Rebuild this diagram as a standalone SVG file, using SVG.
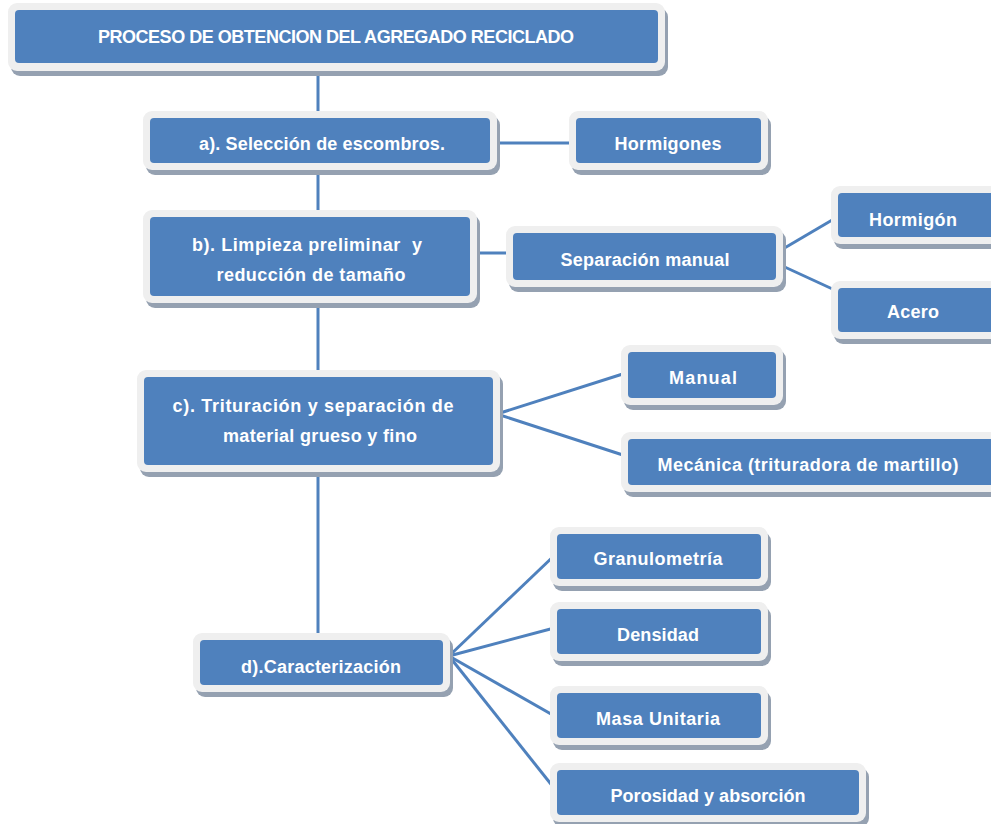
<svg xmlns="http://www.w3.org/2000/svg" width="991" height="824" viewBox="0 0 991 824">
<style>
.sh{fill:#95a1b1}
.fr{fill:#efefef}
.bl{fill:#4f81bd}
.t{font-family:"Liberation Sans",Arial,sans-serif;font-weight:bold;font-size:18px;fill:#ffffff;text-anchor:middle}
.c{stroke:#4f81bd;stroke-width:3;fill:none}
</style>
<rect width="991" height="824" fill="#ffffff"/>
<g id="connectors">
<line class="c" x1="318" y1="60" x2="318" y2="642"/>
<line class="c" x1="490" y1="143" x2="577" y2="143"/>
<line class="c" x1="470" y1="253" x2="514" y2="253"/>
<line class="c" x1="776" y1="253" x2="839" y2="216"/>
<line class="c" x1="776" y1="263" x2="839" y2="292"/>
<line class="c" x1="497" y1="414" x2="629" y2="372"/>
<line class="c" x1="497" y1="414" x2="629" y2="457"/>
<line class="c" x1="449" y1="656" x2="558" y2="552"/>
<line class="c" x1="449" y1="656" x2="558" y2="627"/>
<line class="c" x1="449" y1="656" x2="558" y2="718"/>
<line class="c" x1="449" y1="656" x2="558" y2="793"/>
</g>
<g id="n-top">
<rect class="sh" x="11" y="8" width="657" height="68" rx="9"/>
<rect class="fr" x="8" y="3" width="657" height="68" rx="9"/>
<rect class="bl" x="15" y="10" width="643" height="53" rx="4"/>
<text class="t" x="336" y="43" font-size="16.5" textLength="476">PROCESO DE OBTENCION DEL AGREGADO RECICLADO</text>
</g>
<g id="n-a">
<rect class="sh" x="146" y="116" width="354" height="59" rx="9"/>
<rect class="fr" x="143" y="111" width="354" height="59" rx="9"/>
<rect class="bl" x="150" y="118" width="340" height="45" rx="4"/>
<text class="t" x="322" y="150" textLength="246">a). Selección de escombros.</text>
</g>
<g id="n-hormigones">
<rect class="sh" x="572" y="116" width="199" height="59" rx="9"/>
<rect class="fr" x="569" y="111" width="199" height="59" rx="9"/>
<rect class="bl" x="576" y="118" width="185" height="45" rx="4"/>
<text class="t" x="668" y="150" textLength="107">Hormigones</text>
</g>
<g id="n-b">
<rect class="sh" x="146" y="215" width="334" height="93" rx="9"/>
<rect class="fr" x="143" y="210" width="334" height="93" rx="9"/>
<rect class="bl" x="150" y="217" width="320" height="79" rx="4"/>
<text class="t" x="307" y="251" textLength="230" xml:space="preserve">b). Limpieza preliminar  y</text>
<text class="t" x="311" y="281" textLength="189">reducción de tamaño</text>
</g>
<g id="n-separacion">
<rect class="sh" x="509" y="231" width="277" height="61" rx="9"/>
<rect class="fr" x="506" y="226" width="277" height="61" rx="9"/>
<rect class="bl" x="513" y="233" width="263" height="47" rx="4"/>
<text class="t" x="645" y="266" textLength="169">Separación manual</text>
</g>
<g id="n-hormigon">
<rect class="sh" x="834" y="191" width="175" height="58" rx="9"/>
<rect class="fr" x="831" y="186" width="175" height="58" rx="9"/>
<rect class="bl" x="838" y="193" width="161" height="44" rx="4"/>
<text class="t" x="913" y="226" textLength="88">Hormigón</text>
</g>
<g id="n-acero">
<rect class="sh" x="834" y="286" width="175" height="58" rx="9"/>
<rect class="fr" x="831" y="281" width="175" height="58" rx="9"/>
<rect class="bl" x="838" y="288" width="161" height="44" rx="4"/>
<text class="t" x="913" y="318" textLength="52">Acero</text>
</g>
<g id="n-c">
<rect class="sh" x="140" y="375" width="363" height="102" rx="9"/>
<rect class="fr" x="137" y="370" width="363" height="102" rx="9"/>
<rect class="bl" x="144" y="377" width="349" height="88" rx="4"/>
<text class="t" x="313" y="412" textLength="281">c). Trituración y separación de</text>
<text class="t" x="320" y="442" textLength="194">material grueso y fino</text>
</g>
<g id="n-manual">
<rect class="sh" x="624" y="350" width="162" height="60" rx="9"/>
<rect class="fr" x="621" y="345" width="162" height="60" rx="9"/>
<rect class="bl" x="628" y="352" width="148" height="46" rx="4"/>
<text class="t" x="703" y="384" textLength="68">Manual</text>
</g>
<g id="n-mecanica">
<rect class="sh" x="624" y="437" width="380" height="60" rx="9"/>
<rect class="fr" x="621" y="432" width="380" height="60" rx="9"/>
<rect class="bl" x="628" y="439" width="366" height="46" rx="4"/>
<text class="t" x="808" y="471" textLength="301">Mecánica (trituradora de martillo)</text>
</g>
<g id="n-d">
<rect class="sh" x="196" y="638" width="257" height="59" rx="9"/>
<rect class="fr" x="193" y="633" width="257" height="59" rx="9"/>
<rect class="bl" x="200" y="640" width="243" height="45" rx="4"/>
<text class="t" x="321" y="673" textLength="160">d).Caracterización</text>
</g>
<g id="n-granulometria">
<rect class="sh" x="553" y="532" width="218" height="59" rx="9"/>
<rect class="fr" x="550" y="527" width="218" height="59" rx="9"/>
<rect class="bl" x="557" y="534" width="204" height="45" rx="4"/>
<text class="t" x="658" y="565" textLength="129">Granulometría</text>
</g>
<g id="n-densidad">
<rect class="sh" x="553" y="607" width="218" height="59" rx="9"/>
<rect class="fr" x="550" y="602" width="218" height="59" rx="9"/>
<rect class="bl" x="557" y="609" width="204" height="45" rx="4"/>
<text class="t" x="658" y="641" textLength="82">Densidad</text>
</g>
<g id="n-masa">
<rect class="sh" x="553" y="691" width="218" height="59" rx="9"/>
<rect class="fr" x="550" y="686" width="218" height="59" rx="9"/>
<rect class="bl" x="557" y="693" width="204" height="45" rx="4"/>
<text class="t" x="658" y="725" textLength="124">Masa Unitaria</text>
</g>
<g id="n-porosidad">
<rect class="sh" x="553" y="768" width="316" height="59" rx="9"/>
<rect class="fr" x="550" y="763" width="316" height="59" rx="9"/>
<rect class="bl" x="557" y="770" width="302" height="45" rx="4"/>
<text class="t" x="708" y="802" textLength="195">Porosidad y absorción</text>
</g>
</svg>
